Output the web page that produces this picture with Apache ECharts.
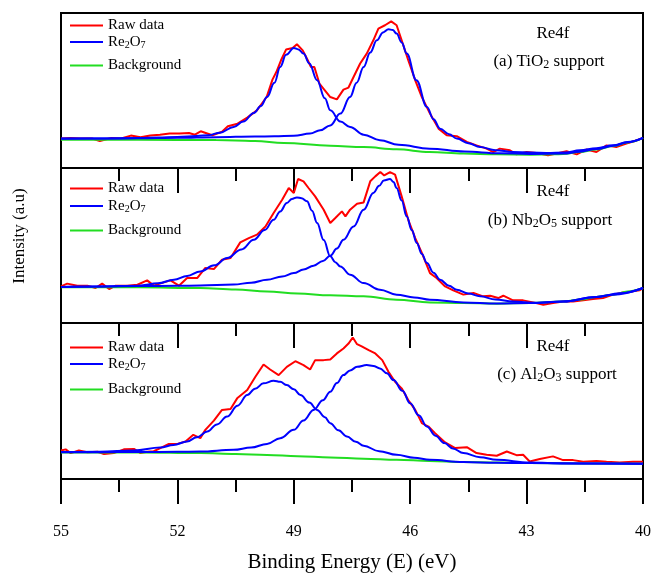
<!DOCTYPE html>
<html>
<head>
<meta charset="utf-8">
<script src="https://cdn.jsdelivr.net/npm/echarts@6/dist/echarts.min.js"></script>
<style>html,body{margin:0;padding:0;background:#fff}#c{width:654px;height:576px}</style>
</head>
<body>
<div id="c"></div>
<script>
// ---------------- DATA (binding energy eV, intensity a.u.) ----------------
const xMajorTicks = [55, 52, 49, 46, 43, 40];
const legendNames = ['Raw data', 'Re2O7', 'Background'];
const panelLabels = ['(a) TiO2 support', '(b) Nb2O5 support', '(c) Al2O3 support'];
const regionLabel = 'Re4f';

// (a) TiO2
const topRaw = [[55.0,19.0],[54.75,19.3],[54.5,19.0],[54.2,19.0],[54.0,17.4],[53.7,19.3],[53.45,19.0],[53.2,20.9],[52.95,19.8],[52.7,20.9],[52.45,21.5],[52.2,22.2],[51.95,22.2],[51.7,22.6],[51.55,21.5],[51.4,23.7],[51.1,21.1],[50.85,23.4],[50.7,26.9],[50.45,28.6],[50.2,32.5],[49.95,37.2],[49.7,45.8],[49.55,57.0],[49.45,61.9],[49.33,69.5],[49.2,76.4],[49.03,77.4],[48.92,79.8],[48.77,75.9],[48.64,69.5],[48.56,65.2],[48.47,65.2],[48.34,54.5],[48.06,45.8],[47.89,44.3],[47.72,50.6],[47.59,51.9],[47.46,58.7],[47.29,67.4],[47.12,73.8],[46.95,82.4],[46.82,89.9],[46.65,92.1],[46.49,94.6],[46.35,92.1],[46.22,82.4],[46.05,69.5],[45.87,56.6],[45.7,45.8],[45.49,35.1],[45.27,25.4],[45.06,21.1],[44.8,20.5],[44.54,16.8],[44.29,14.6],[44.03,12.5],[43.86,10.3],[43.69,12.5],[43.43,11.4],[43.26,8.8],[43.0,10.3],[42.74,9.7],[42.45,8.2],[42.23,9.3],[41.97,10.8],[41.71,8.8],[41.46,11.9],[41.2,10.3],[40.94,14.6],[40.69,13.5],[40.43,15.7],[40.21,17.4],[40.0,19.4]];
const topFit1 = [[55,19.0],[54,19.1],[53,19.3],[52.5,19.6],[52,20.0],[51.5,20.6],[51.2,21.2],[50.9,22.8],[50.55,26.5],[50.3,30.0],[50.03,35.5],[49.85,40.0],[49.69,45.8],[49.5,55.0],[49.35,65.2],[49.2,73.0],[49.0,77.4],[48.88,76.5],[48.75,73.8],[48.6,67.5],[48.4,56.6],[48.2,45.0],[48.06,37.2],[47.8,30.0],[47.55,26.5],[47.2,21.5],[46.78,17.9],[46.3,15.0],[45.5,12.5],[44.6,10.6],[43.7,9.5],[42.9,9.1],[42.06,9.3],[41.63,10.5],[41.2,12.2],[40.77,14.3],[40.4,16.6],[40,19.4]];
const topFit2 = [[55,18.9],[54,19.0],[53,19.2],[52,19.5],[51,19.9],[50,20.3],[49.5,20.5],[49.0,20.8],[48.58,22.2],[48.32,24.3],[48.06,27.5],[47.8,35.1],[47.55,45.8],[47.38,55.0],[47.2,65.2],[47.03,74.5],[46.86,82.4],[46.7,87.5],[46.56,89.5],[46.45,89.0],[46.35,86.7],[46.22,81.0],[46.09,73.8],[45.84,56.6],[45.57,39.4],[45.4,31.5],[45.23,25.4],[45.0,21.8],[44.8,19.0],[44.5,16.0],[44.2,13.5],[43.8,11.5],[43.35,10.3],[42.49,9.7],[42.0,10.0],[41.63,11.4],[41.2,12.8],[40.77,14.6],[40.4,16.8],[40,19.4]];
const topBg = [[55,18.3],[53,18.2],[51,18.0],[50.5,17.8],[50,17.4],[49.26,16.1],[48.06,14.4],[47.2,13.5],[46.35,12.1],[45.5,10.3],[44.63,9.3],[43.77,8.8],[42.92,8.6],[42.3,8.8],[42.06,9.0],[41.63,10.3],[41.2,12.0],[40.77,14.2],[40.4,16.5],[40,19.4]];

// (b) Nb2O5
const midRaw = [[55.0,23.6],[54.84,25.4],[54.58,24.1],[54.32,24.1],[54.11,22.6],[53.94,25.4],[53.76,21.9],[53.59,24.1],[53.29,24.1],[53.03,24.7],[52.78,27.5],[52.61,24.1],[52.35,26.2],[52.18,27.5],[51.96,24.1],[51.75,29.0],[51.49,29.0],[51.28,35.5],[51.06,34.8],[50.85,40.8],[50.63,41.9],[50.38,52.0],[50.16,54.8],[49.95,57.0],[49.73,62.3],[49.52,71.0],[49.3,79.5],[49.13,87.1],[49.0,83.9],[48.89,92.9],[48.75,91.4],[48.62,87.1],[48.45,81.7],[48.23,73.1],[48.06,64.5],[47.93,67.7],[47.76,72.0],[47.67,68.8],[47.55,73.1],[47.37,77.0],[47.2,77.8],[47.03,91.4],[46.9,94.6],[46.77,97.4],[46.67,95.2],[46.52,97.4],[46.39,95.7],[46.22,81.7],[46.05,66.6],[45.87,54.8],[45.7,45.2],[45.49,32.2],[45.32,29.0],[45.1,23.6],[44.89,21.0],[44.63,18.3],[44.37,19.4],[44.12,17.2],[43.94,17.6],[43.73,16.1],[43.6,17.6],[43.35,14.6],[43.09,14.6],[42.83,13.3],[42.57,11.8],[42.32,12.9],[42.06,13.9],[41.8,13.9],[41.54,14.6],[41.29,15.5],[41.03,16.1],[40.77,18.3],[40.52,19.7],[40.26,20.4],[40.09,21.1],[40.0,22.6]];
const midFit1 = [[55,23.3],[54,23.6],[53,24.1],[52.5,25.6],[52.09,27.9],[51.75,30.3],[51.41,33.3],[51.05,37.2],[50.72,41.9],[50.35,47.5],[50.03,53.7],[49.75,60.0],[49.52,66.6],[49.35,72.0],[49.18,77.4],[49.05,80.0],[48.92,81.0],[48.8,80.5],[48.66,78.5],[48.53,72.5],[48.4,64.5],[48.23,53.5],[48.06,43.0],[47.93,39.2],[47.8,36.5],[47.55,31.2],[47.2,25.8],[46.78,21.5],[46.35,18.3],[45.9,16.5],[45.49,15.0],[44.63,13.3],[43.77,12.6],[42.92,12.9],[42.06,13.9],[41.2,16.8],[40.77,18.3],[40,22.6]];
const midFit2 = [[55,23.3],[54,23.6],[53,23.8],[52,24.0],[51.41,24.2],[50.55,24.8],[50.1,26.0],[49.69,27.9],[49.3,30.0],[49.0,32.2],[48.75,34.5],[48.49,37.0],[48.25,40.0],[48.06,43.4],[47.89,48.0],[47.72,53.7],[47.46,62.3],[47.2,73.1],[46.95,83.9],[46.8,88.5],[46.68,92.0],[46.52,92.9],[46.43,91.0],[46.35,87.1],[46.22,79.0],[46.09,68.8],[45.96,60.0],[45.83,51.6],[45.7,44.5],[45.57,38.7],[45.4,32.5],[45.23,27.9],[45.0,24.0],[44.8,21.5],[44.5,19.0],[44.2,17.2],[43.8,15.2],[43.35,13.9],[42.74,12.9],[42.06,13.9],[41.2,16.8],[40.6,19.2],[40,22.6]];
const midBg = [[55,23.0],[53,23.0],[51.41,22.6],[50.5,21.6],[49.69,20.4],[48.9,19.0],[48.06,17.9],[47.2,17.2],[46.35,15.0],[45.49,13.3],[44.63,12.9],[43.77,12.5],[42.92,12.9],[42.06,13.9],[41.6,15.2],[41.2,16.8],[40.77,18.3],[40.4,20.3],[40,22.6]];

// (c) Al2O3
const botRaw = [[55.0,18.3],[54.88,19.0],[54.75,16.6],[54.54,18.3],[54.32,17.2],[54.06,17.5],[53.89,16.0],[53.64,16.6],[53.38,19.0],[53.12,19.3],[52.95,16.6],[52.78,17.5],[52.61,17.8],[52.44,19.8],[52.22,22.5],[52.0,22.5],[51.79,24.0],[51.59,28.3],[51.41,26.2],[51.28,31.5],[51.06,37.4],[50.85,44.3],[50.63,44.9],[50.46,51.7],[50.2,57.0],[49.99,65.5],[49.78,73.4],[49.61,70.2],[49.39,66.6],[49.18,71.9],[48.96,75.5],[48.75,73.0],[48.58,70.2],[48.45,76.2],[48.23,76.2],[48.06,76.6],[47.89,80.5],[47.72,83.7],[47.59,86.8],[47.48,90.7],[47.37,86.4],[47.25,85.0],[47.07,82.6],[46.9,80.5],[46.72,76.2],[46.56,68.7],[46.39,62.3],[46.22,58.1],[46.05,50.6],[45.87,44.3],[45.7,35.8],[45.53,33.6],[45.36,29.4],[45.1,23.4],[44.84,19.8],[44.54,20.4],[44.29,16.6],[44.03,15.5],[43.77,14.9],[43.51,17.6],[43.26,15.3],[43.09,15.5],[42.92,11.2],[42.66,12.8],[42.32,14.5],[42.06,12.1],[41.8,12.1],[41.54,11.0],[41.2,11.5],[40.94,11.0],[40.6,10.5],[40.26,11.0],[40.0,11.0]];
const botFit1 = [[55,17.3],[54,17.5],[53.12,18.3],[52.44,20.2],[52.1,21.8],[51.75,24.0],[51.5,26.8],[51.23,30.4],[50.98,35.0],[50.72,40.0],[50.45,47.0],[50.2,53.8],[50.0,57.8],[49.78,61.3],[49.52,63.0],[49.35,62.3],[49.18,60.2],[49.0,57.5],[48.83,53.8],[48.6,49.0],[48.4,44.3],[48.2,39.6],[48.06,35.8],[47.85,31.2],[47.63,27.2],[47.4,23.8],[47.2,21.3],[46.8,17.8],[46.35,15.5],[45.9,13.6],[45.49,12.3],[44.63,10.9],[43.77,10.4],[42.92,10.2],[41.5,10.0],[40,9.8]];
const botFit2 = [[55,17.1],[54,17.2],[53,17.3],[52,17.4],[51.41,17.6],[50.55,18.7],[50.1,20.2],[49.69,22.5],[49.35,26.2],[49.0,31.5],[48.75,37.5],[48.49,44.3],[48.25,50.5],[48.06,55.9],[47.89,61.5],[47.72,66.6],[47.55,69.6],[47.37,71.9],[47.12,73.0],[46.95,72.4],[46.78,70.9],[46.6,67.8],[46.43,63.4],[46.2,56.5],[46.0,48.5],[45.78,40.8],[45.57,33.6],[45.35,27.8],[45.12,23.0],[44.9,19.6],[44.63,16.6],[44.2,14.0],[43.77,12.3],[42.92,10.6],[42.0,10.0],[40,9.8]];
const botBg = [[55,17.0],[53,17.0],[51.41,16.6],[50.5,16.0],[49.69,15.4],[48.9,14.6],[48.06,13.8],[47.2,13.0],[46.35,12.3],[45.5,11.6],[44.63,10.9],[43.77,10.5],[42.92,10.2],[41.5,10.0],[40,9.8]];

// ---------------- LAYOUT / STYLE ----------------
const FONT = '"Liberation Serif", "Times New Roman", Times, serif';
const X_OFF = 40;            // axis runs on (E - 40) so ticks start at 0
const RED = '#ff0000', BLUE = '#0000ff', GREEN = '#22dd22';
const grids = [
  {left: 61, right: 11, top: 13, height: 155},
  {left: 61, right: 11, top: 168, height: 155},
  {left: 61, right: 11, top: 323, height: 156}
];
// legend row centre lines (px) per panel: Raw data, Re2O7, Background
const legendRows = [[24, 41, 64], [187, 205, 229], [346, 363, 388]];
const legendHalf = [6, 12, 6];   // offset from legend box top to its line
const labelPos = [
  {re: [553, 34], sub: [549, 62]},
  {re: [553, 192], sub: [550, 221]},
  {re: [553, 347], sub: [557, 375]}
];
const panels = [
  {raw: topRaw, fit: [topFit1, topFit2], bg: topBg},
  {raw: midRaw, fit: [midFit1, midFit2], bg: midBg},
  {raw: botRaw, fit: [botFit1, botFit2], bg: botBg}
];

const shift = arr => arr.map(p => [p[0] - X_OFF, p[1]]);
const subRich = (size, pad) => ({
  n: {fontFamily: FONT, fontSize: size, lineHeight: size + 1, color: '#000', fill: '#000'},
  s: {fontFamily: FONT, fontSize: Math.round(size * 0.68), lineHeight: Math.round(size * 0.68),
      padding: [pad, 0, 0, 0], verticalAlign: 'bottom', color: '#000', fill: '#000'}
});
function toRich(txt) {
  return txt.replace(/([A-Za-z)]+)|(\d)|(\s+|\(|\))/g, (m, w, d) => d ? '{s|' + d + '}' : '{n|' + m + '}');
}

const xAxis = [], yAxis = [], series = [], legend = [], graphic = [];
panels.forEach((p, i) => {
  xAxis.push({
    gridIndex: i, type: 'value', min: 0, max: 15, interval: 3, inverse: true,
    axisLine: {show: true, onZero: false, lineStyle: {color: '#000', width: 2}},
    axisTick: {show: true, inside: false, length: 25, lineStyle: {color: '#000', width: 2}},
    minorTick: {show: true, splitNumber: 2, length: 13, lineStyle: {color: '#000', width: 2}},
    splitLine: {show: false}, minorSplitLine: {show: false},
    axisLabel: {
      show: i === 2, margin: 45, fontFamily: FONT, fontSize: 16, color: '#000',
      showMinLabel: true, showMaxLabel: true,
      formatter: v => { const e = Math.round((v + X_OFF) * 10) / 10; return xMajorTicks.includes(e) ? String(e) : ''; }
    }
  });
  yAxis.push({gridIndex: i, type: 'value', min: 0, max: 100, show: false});
  const common = {type: 'line', xAxisIndex: i, yAxisIndex: i, symbol: 'none', silent: true, animation: false};
  series.push(Object.assign({}, common, {name: legendNames[0], data: shift(p.raw), z: 2,
    lineStyle: {color: RED, width: 2}, itemStyle: {color: RED}}));
  series.push(Object.assign({}, common, {name: legendNames[2], data: shift(p.bg), z: 3, smooth: 0.4, smoothMonotone: 'x',
    lineStyle: {color: GREEN, width: 2}, itemStyle: {color: GREEN}}));
  p.fit.forEach(f => series.push(Object.assign({}, common, {name: legendNames[1], data: shift(f), z: 4, smooth: 0.4, smoothMonotone: 'x',
    lineStyle: {color: BLUE, width: 2}, itemStyle: {color: BLUE}})));
  legendNames.forEach((nm, k) => legend.push({
    data: [nm], orient: 'vertical', left: 70, top: legendRows[i][k] - legendHalf[k], padding: 0,
    icon: 'rect', itemWidth: 33, itemHeight: 2, selectedMode: false,
    textStyle: {fontFamily: FONT, fontSize: 15, color: '#000', rich: subRich(15, 11)},
    formatter: name => toRich(name)
  }));
  graphic.push({type: 'text', x: labelPos[i].re[0], y: labelPos[i].re[1], silent: true,
    style: {text: regionLabel, fontFamily: FONT, fontSize: 17, fill: '#000', align: 'center', verticalAlign: 'middle'}});
  graphic.push({type: 'text', x: labelPos[i].sub[0], y: labelPos[i].sub[1], silent: true,
    style: {text: toRich(panelLabels[i]), fontFamily: FONT, fontSize: 17, fill: '#000', align: 'center', verticalAlign: 'middle',
      rich: subRich(17, 16)}});
});
graphic.push({type: 'text', x: 20, y: 236, rotation: Math.PI / 2, silent: true,
  style: {text: 'Intensity (a.u)', fontFamily: FONT, fontSize: 17, fill: '#000', align: 'center', verticalAlign: 'middle'}});
graphic.push({type: 'text', x: 352, y: 562, silent: true,
  style: {text: 'Binding Energy (E) (eV)', fontFamily: FONT, fontSize: 21, fill: '#000', align: 'center', verticalAlign: 'middle'}});

const chart = echarts.init(document.getElementById('c'), null, {renderer: 'canvas'});
chart.setOption({
  animation: false,
  backgroundColor: '#fff',
  grid: grids.map(g => Object.assign({show: true, borderColor: '#000', borderWidth: 2, backgroundColor: 'transparent'}, g)),
  xAxis, yAxis, series, legend, graphic
});
</script>
</body>
</html>
